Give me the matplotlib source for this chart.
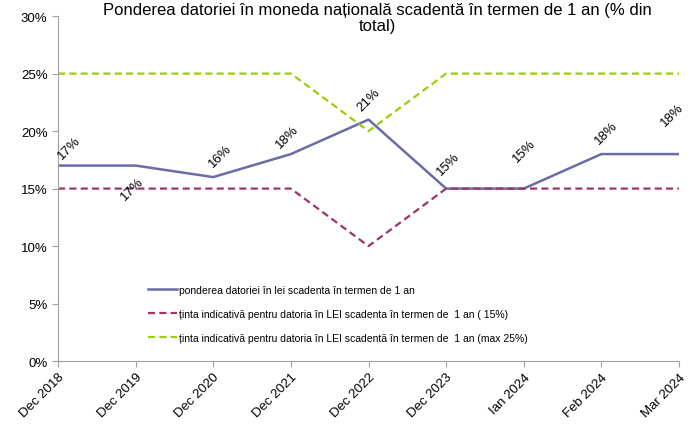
import matplotlib.pyplot as plt
from matplotlib.ticker import FuncFormatter, MultipleLocator

plt.rcParams["font.family"] = ["Liberation Sans", "DejaVu Sans"]

periods = ["Dec 2018", "Dec 2019", "Dec 2020", "Dec 2021", "Dec 2022",
           "Dec 2023", "Ian 2024", "Feb 2024", "Mar 2024"]
share = [17, 17, 16, 18, 21, 15, 15, 18, 18]
target_min = [15, 15, 15, 15, 10, 15, 15, 15, 15]
target_max = [25, 25, 25, 25, 20, 25, 25, 25, 25]

# data label placement (pixels from the point), as Excel put them
label_offsets = [(11, 18), (-3, -23), (7, 22), (-4, 18), (0, 20),
                 (2, 25), (1, 38), (5, 22), (-7, 40)]

fig = plt.figure(figsize=(6.97, 4.27), dpi=100)
ax = fig.add_axes([0.0832, 0.152, 0.891, 0.808])

x = list(range(len(periods)))
ax.plot(x, share, color="#6B6BA6", linewidth=1.8,
        label="ponderea datoriei în lei scadenta în termen de 1 an")
ax.plot(x, target_min, color="#A0336A", linewidth=1.6, dashes=(3.2, 1.9),
        label="ținta indicativă pentru datoria în LEI scadenta în termen de  1 an ( 15%)")
ax.plot(x, target_max, color="#9ACD0A", linewidth=1.6, dashes=(3.2, 1.9),
        label="ținta indicativă pentru datoria în LEI scadentă în termen de  1 an (max 25%)")

for i, v in enumerate(share):
    ax.annotate(f"{v}%", (i, v), xytext=label_offsets[i], textcoords="offset pixels",
                rotation=45, ha="center", va="center", fontsize=9.5)

ax.set_xlim(0, len(periods) - 1)
ax.set_ylim(0, 30)
ax.yaxis.set_major_locator(MultipleLocator(5))
ax.yaxis.set_major_formatter(FuncFormatter(lambda v, _: f"{v:.0f}%"))
ax.set_xticks(x)
ax.set_xticklabels(periods, rotation=45, ha="right", rotation_mode="anchor")
ax.tick_params(axis="both", labelsize=9.5, color="#A0A0A0", length=4)
ax.tick_params(axis="x", pad=3)

for spine in ["top", "right"]:
    ax.spines[spine].set_visible(False)
for spine in ["left", "bottom"]:
    ax.spines[spine].set_color("#A0A0A0")

ax.legend(loc="lower left", bbox_to_anchor=(0.13, 0.025), frameon=False,
          fontsize=7.5, labelspacing=1.35, handlelength=2.8, handletextpad=0.2)

fig.suptitle("Ponderea datoriei în moneda națională scadentă în termen de 1 an (% din\ntotal)",
             x=0.542, y=0.993, fontsize=12, linespacing=1.1)

fig.savefig("out.png", dpi=100)
